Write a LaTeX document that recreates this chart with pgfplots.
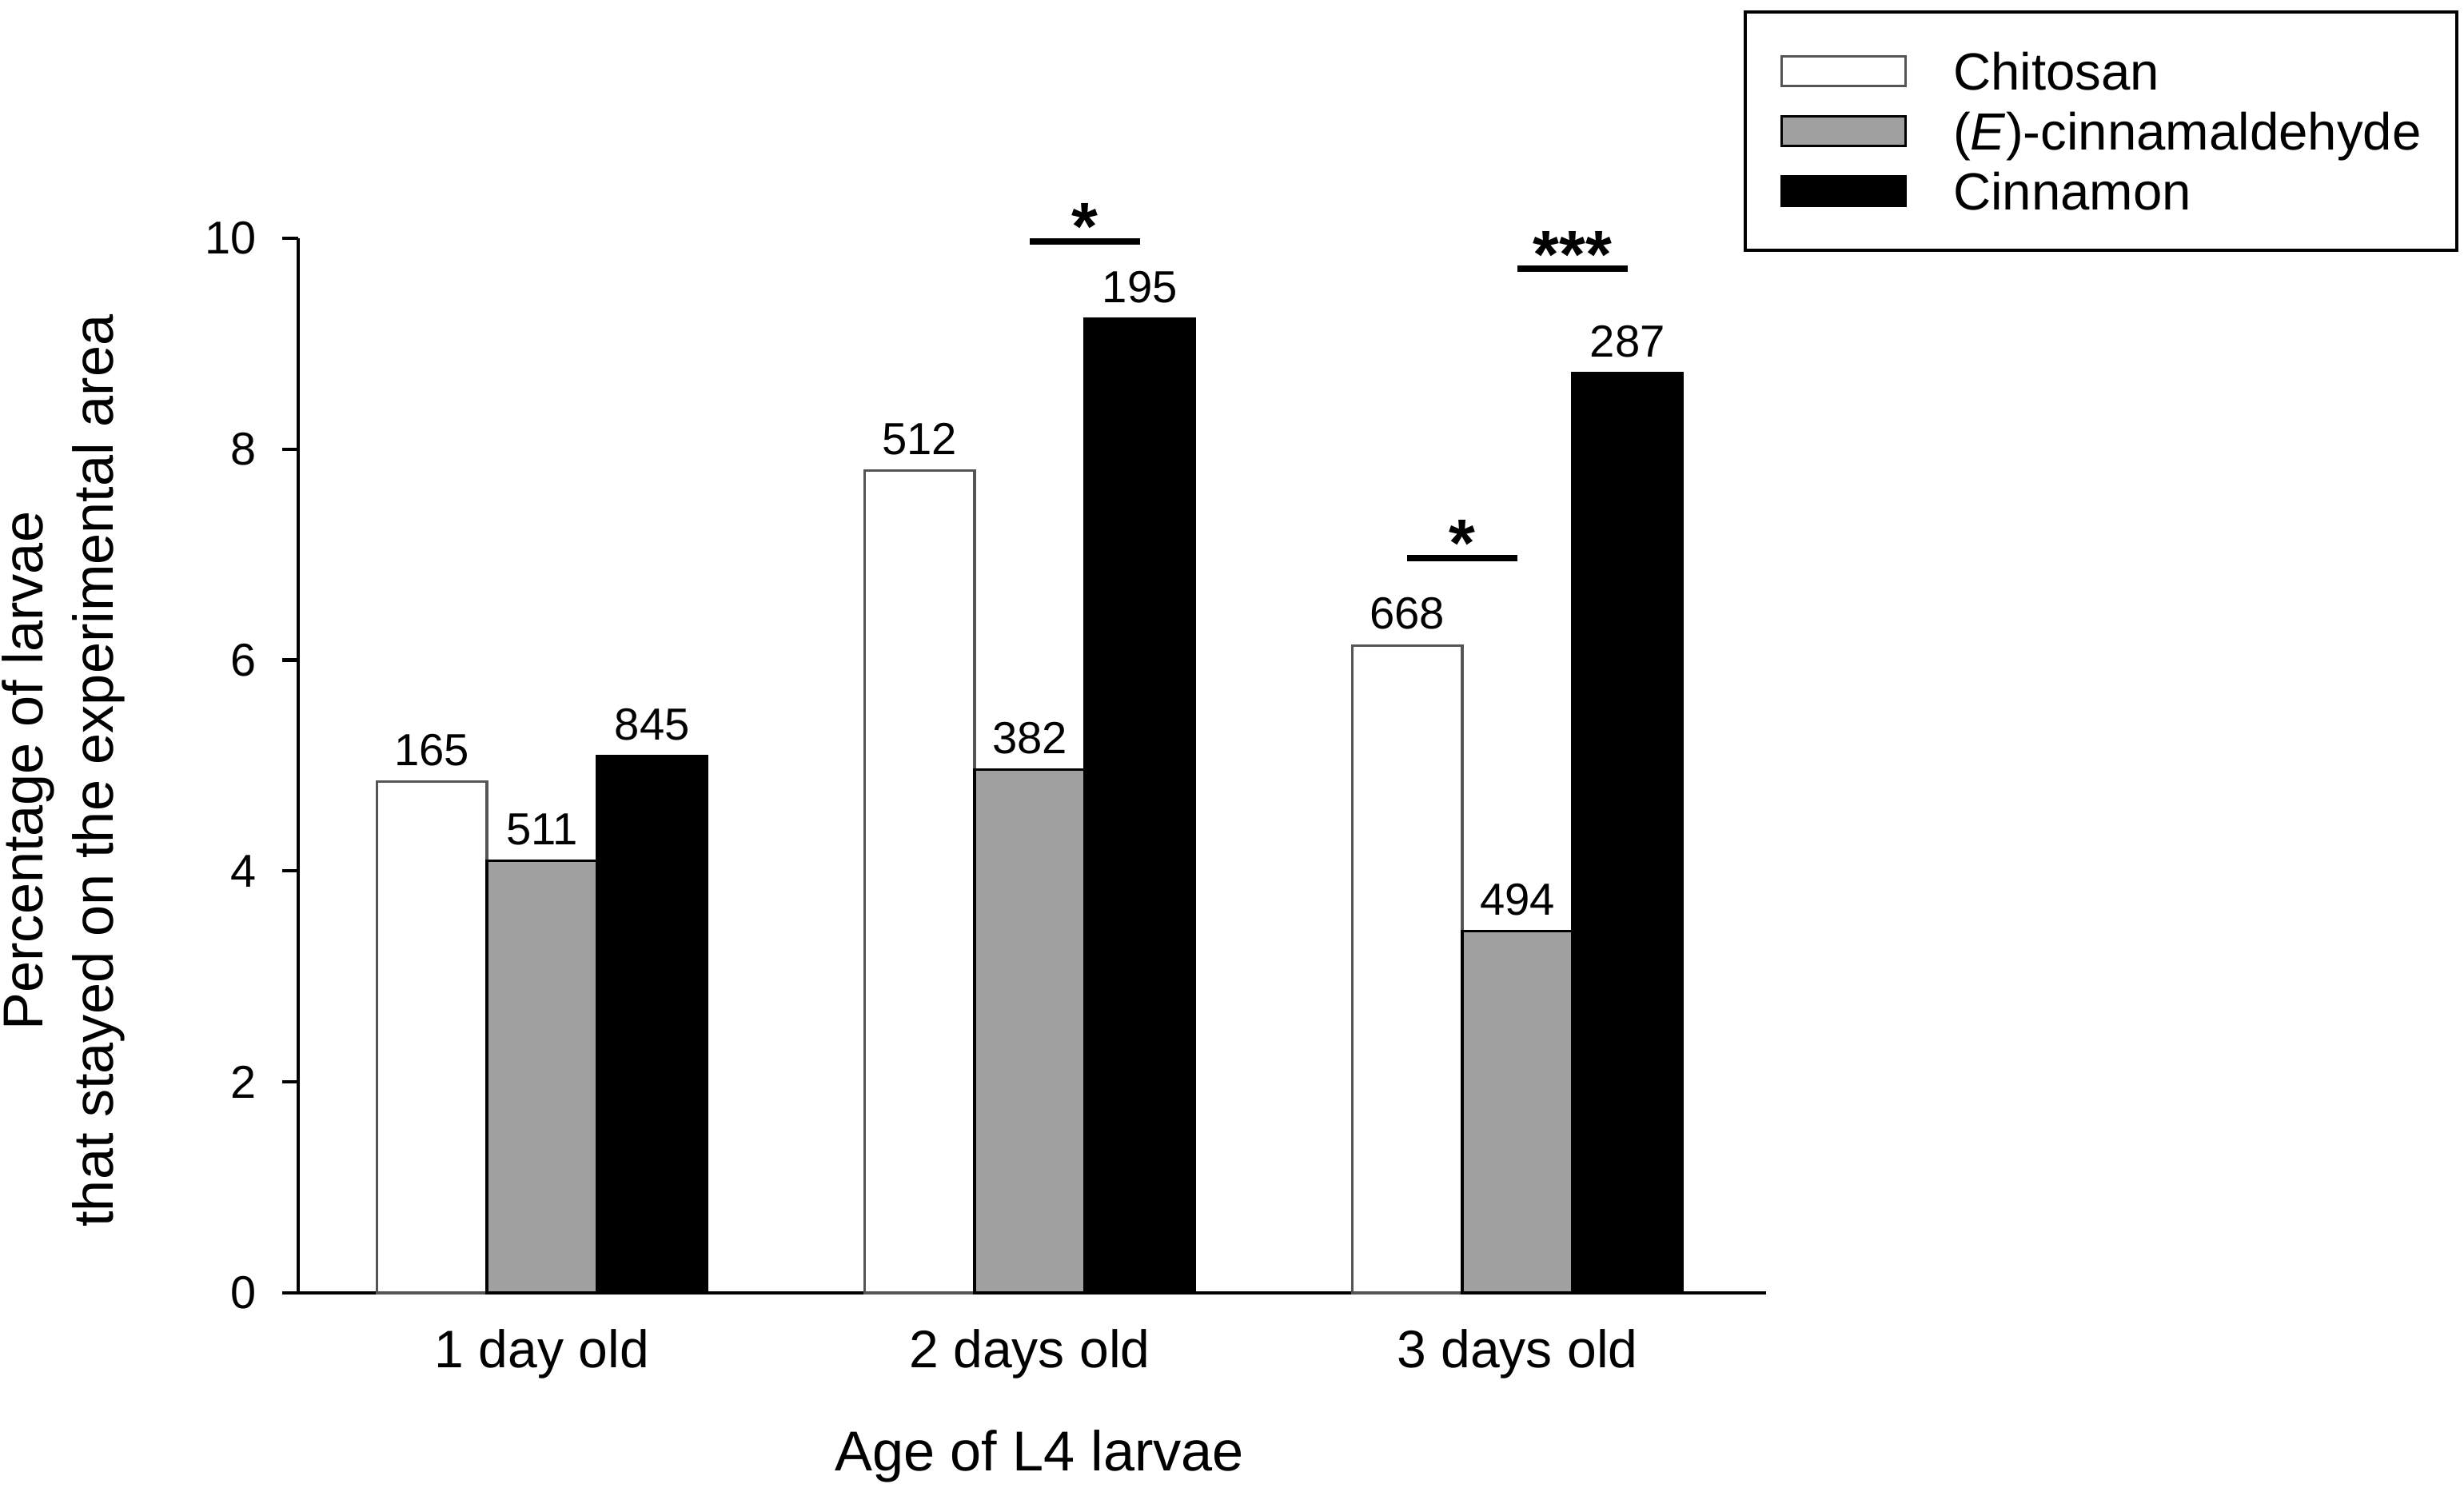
\documentclass[border=0pt]{standalone}
\usepackage{fontspec}
\setmainfont{Liberation Sans}
\usepackage{pgfplots}
\pgfplotsset{compat=1.18}
\definecolor{barGray}{RGB}{160,160,160}
\definecolor{edgeGray}{RGB}{85,85,85}

\pgfplotsset{
  swatch/.style={legend image code/.code={
    \draw[##1, line width=0.45pt] (0mm,-0.925mm) rectangle (7.75mm,0.925mm);}},
}
\tikzset{sig/.style={font=\fontsize{12}{14}\bfseries, anchor=base, inner sep=0pt, yshift=-0.55mm}}

\begin{document}
\begin{tikzpicture}
\useasboundingbox (-18.65mm,-12.45mm) rectangle (135.45mm,80.85mm);
\begin{axis}[
  scale only axis,
  width=91.8mm, height=65.95mm,
  ybar=0pt, bar width=0.226,
  xmin=-0.5, xmax=2.51, ymin=0, ymax=10,
  enlargelimits=false,
  clip=false,
  axis x line*=bottom, axis y line*=left,
  axis line style={line width=0.6pt, black},
  xtick={0,1,2},
  xticklabels={1 day old, 2 days old, 3 days old},
  x tick style={draw=none},
  ytick={0,2,...,10},
  y tick style={line width=0.6pt, black},
  tick align=outside, major tick length=1mm,
  /pgf/number format/assume math mode=true,
  yticklabel style={font=\fontsize{8.2}{9}\selectfont, anchor=east, inner sep=0pt, xshift=-1.55mm},
  xticklabel style={font=\fontsize{9.4}{11}\selectfont, anchor=base, inner sep=0pt, yshift=-3.7mm},
  xlabel={Age of L4 larvae},
  xlabel style={font=\fontsize{10}{12}\selectfont, at={(axis description cs:0.505,0)}, anchor=base, inner sep=0pt, yshift=-11.15mm},
  ylabel={Percentage of larvae\\that stayed on the experimental area},
  ylabel style={font=\fontsize{10}{12.5}\selectfont, align=center, at={(axis description cs:-0.1176,0.495)}, anchor=south, inner sep=0pt},
  nodes near coords,
  point meta=explicit symbolic,
  every node near coord/.append style={font=\fontsize{8}{9}\selectfont, anchor=south, inner sep=0pt, yshift=0.9mm},
  legend style={at={(0.9847,1.2161)}, anchor=north west, draw=black, line width=0.6pt,
    font=\fontsize{9.3}{11}\selectfont, inner xsep=2.2mm, inner ysep=1.825mm, row sep=0pt,
    nodes={inner sep=0pt, text height=3.025mm, text depth=0.725mm},
    /tikz/every odd column/.append style={column sep=2.9mm}},
  legend cell align=left,
]
\addplot[swatch, fill=white, draw=edgeGray, line width=0.45pt]
  coordinates {(0,4.85) [165] (1,7.80) [512] (2,6.14) [668]};
\addplot[swatch, fill=barGray, draw=black, line width=0.45pt]
  coordinates {(0,4.10) [511] (1,4.96) [382] (2,3.43) [494]};
\addplot[swatch, fill=black, draw=black, line width=0.45pt]
  coordinates {(0,5.09) [845] (1,9.24) [195] (2,8.72) [287]};
\legend{Chitosan, (\textit{E})-cinnamaldehyde, Cinnamon}

% significance bars
\draw[line width=1.15pt] (axis cs:1,9.97) -- (axis cs:1.226,9.97);
\node[sig] at (axis cs:1.113,9.97) {*};
\draw[line width=1.15pt] (axis cs:1.774,6.97) -- (axis cs:2,6.97);
\node[sig] at (axis cs:1.887,6.97) {*};
\draw[line width=1.15pt] (axis cs:2,9.71) -- (axis cs:2.226,9.71);
\node[sig] at (axis cs:2.113,9.71) {***};
\end{axis}
\end{tikzpicture}
\end{document}
